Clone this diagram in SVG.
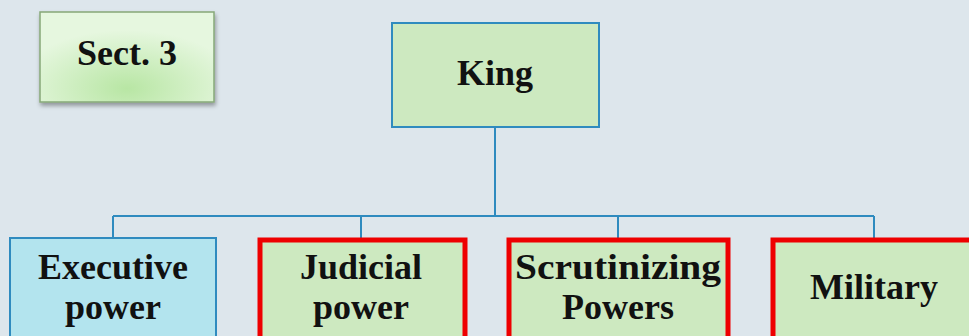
<svg xmlns="http://www.w3.org/2000/svg" width="969" height="336" viewBox="0 0 969 336">
<defs>
<radialGradient id="sg" cx="0.5" cy="0.85" r="0.65">
<stop offset="0" stop-color="#b8e6a4"/>
<stop offset="1" stop-color="#e6f7df"/>
</radialGradient>
<filter id="sh" x="-10%" y="-10%" width="130%" height="140%">
<feDropShadow dx="1" dy="3" stdDeviation="2" flood-color="#000" flood-opacity="0.35"/>
</filter>
</defs>
<style>
.t{font-family:"Liberation Serif","Times New Roman",serif;font-weight:bold;font-size:36px;fill:#111;text-anchor:middle}
.blue{stroke:#2f8bbf;stroke-width:2}
.red{stroke:#ee0000;stroke-width:5}
.g{fill:#cde9c0}
.c{fill:none;stroke:#2f8bbf;stroke-width:2}
</style>
<rect width="969" height="336" fill="#dde6ec"/>
<g id="sect3">
<rect x="40" y="12" width="174" height="90" fill="url(#sg)" stroke="#86a878" stroke-width="1.5" filter="url(#sh)"/>
<text class="t" x="127" y="65">Sect. 3</text>
</g>
<g id="connectors">
<path class="c" d="M495 127V216M113 216H874M113 216V238M361 216V238M618 216V238M874 216V238"/>
</g>
<g id="king">
<rect x="392" y="23" width="207" height="104" class="g blue"/>
<text class="t" x="495" y="85">King</text>
</g>
<g id="executive">
<rect x="10" y="238" width="206" height="110" fill="#b3e4ee" class="blue"/>
<text class="t" x="113" y="279">Executive</text>
<text class="t" x="113" y="319">power</text>
</g>
<g id="judicial">
<rect x="260" y="240" width="205" height="110" class="g red"/>
<text class="t" x="361" y="279">Judicial</text>
<text class="t" x="361" y="319">power</text>
</g>
<g id="scrutinizing">
<rect x="509" y="240" width="219" height="110" class="g red"/>
<text class="t" x="618" y="279" textLength="206" lengthAdjust="spacingAndGlyphs">Scrutinizing</text>
<text class="t" x="618" y="319">Powers</text>
</g>
<g id="military">
<rect x="773" y="240" width="210" height="110" class="g red"/>
<text class="t" x="874" y="299">Military</text>
</g>
</svg>
